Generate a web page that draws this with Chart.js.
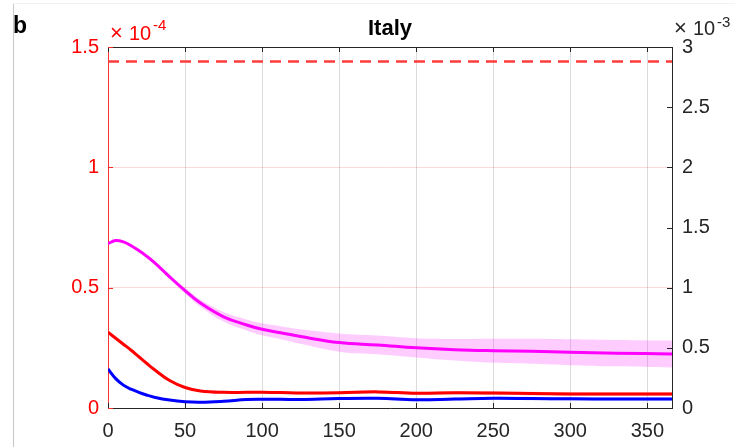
<!DOCTYPE html>
<html>
<head>
<meta charset="utf-8">
<script src="https://cdn.jsdelivr.net/npm/chart.js@4"></script>
<style>
  body { margin: 0; background: #fff; }
  #chart { display: block; }
</style>
</head>
<body>
<canvas id="chart" width="735" height="447"></canvas>
<script>
// days since start, values in units of 1e-4 (left axis)
var days = [0, 5, 10, 15, 20, 25, 30, 40, 50, 60, 75, 90, 100, 112, 125, 150, 175, 200, 225, 250, 275, 300, 330, 366];

var magentaMean = [0.683, 0.696, 0.690, 0.674, 0.654, 0.631, 0.605, 0.545, 0.488, 0.436, 0.379, 0.345, 0.327, 0.313, 0.297, 0.272, 0.262, 0.250, 0.242, 0.238, 0.236, 0.232, 0.228, 0.224];
var magentaSpread = [0.003, 0.004, 0.004, 0.005, 0.005, 0.005, 0.006, 0.009, 0.012, 0.015, 0.020, 0.023, 0.025, 0.027, 0.030, 0.038, 0.039, 0.040, 0.045, 0.050, 0.052, 0.054, 0.055, 0.056];

var redMean = [0.315, 0.290, 0.265, 0.240, 0.213, 0.186, 0.160, 0.114, 0.085, 0.071, 0.065, 0.065, 0.065, 0.064, 0.062, 0.063, 0.067, 0.061, 0.063, 0.062, 0.060, 0.058, 0.058, 0.058];
var redSpread = [0.002, 0.002, 0.002, 0.003, 0.003, 0.003, 0.003, 0.003, 0.004, 0.004, 0.005, 0.005, 0.005, 0.005, 0.006, 0.006, 0.007, 0.007, 0.007, 0.008, 0.008, 0.008, 0.008, 0.008];

var blueMean = [0.1625, 0.122, 0.095, 0.078, 0.065, 0.054, 0.045, 0.033, 0.026, 0.024, 0.028, 0.035, 0.036, 0.036, 0.035, 0.039, 0.040, 0.034, 0.037, 0.040, 0.039, 0.038, 0.037, 0.037];
var blueSpread = [0.002, 0.002, 0.002, 0.002, 0.003, 0.003, 0.003, 0.003, 0.003, 0.004, 0.004, 0.004, 0.005, 0.005, 0.005, 0.005, 0.006, 0.006, 0.006, 0.006, 0.007, 0.007, 0.007, 0.007];

var thresholdX = [0, 366];
var thresholdY = [1.44, 1.44];

var xTicks = [0, 50, 100, 150, 200, 250, 300, 350];
var leftTicks = [0, 0.5, 1, 1.5];
var rightTicks = [0, 0.5, 1, 1.5, 2, 2.5, 3];

var TEXT = '#262626';
var FONT = '"Liberation Sans", Arial, Helvetica, sans-serif';

function pts(xs, ys) {
  return xs.map(function (x, i) { return { x: x, y: ys[i] }; });
}
function band(ys, spread, sign) {
  return ys.map(function (y, i) { return y + sign * spread[i]; });
}
function plain(v) { return String(v); }

function lineSet(data, color) {
  return {
    data: pts(days, data),
    borderColor: color,
    borderWidth: 3,
    pointRadius: 0,
    fill: false,
    tension: 0.4
  };
}
function edgeSet(data, fillTo, bg) {
  return {
    data: pts(days, data),
    borderWidth: 0,
    borderColor: 'rgba(0,0,0,0)',
    backgroundColor: bg,
    pointRadius: 0,
    fill: fillTo,
    tension: 0.4
  };
}

var datasets = [
  lineSet(magentaMean, '#ff00ff'),
  lineSet(redMean, '#ff0000'),
  lineSet(blueMean, '#0000ff'),
  {
    data: pts(thresholdX, thresholdY),
    borderColor: 'rgb(255,60,60)',
    borderWidth: 2.5,
    borderDash: [11, 7],
    pointRadius: 0,
    fill: false
  },
  edgeSet(band(magentaMean, magentaSpread, -1), false, 'rgba(0,0,0,0)'),
  edgeSet(band(magentaMean, magentaSpread, 1), 4, 'rgba(255,0,255,0.2)'),
  edgeSet(band(redMean, redSpread, -1), false, 'rgba(0,0,0,0)'),
  edgeSet(band(redMean, redSpread, 1), 6, 'rgba(255,0,0,0.2)'),
  edgeSet(band(blueMean, blueSpread, -1), false, 'rgba(0,0,0,0)'),
  edgeSet(band(blueMean, blueSpread, 1), 8, 'rgba(0,0,255,0.2)')
];

var decor = {
  id: 'decor',
  afterDraw: function (chart) {
    var ctx = chart.ctx, a = chart.chartArea;
    var sx = chart.scales.x, sy = chart.scales.y, sy1 = chart.scales.y1;
    ctx.save();

    // panel divider
    ctx.strokeStyle = '#c8c8c8';
    ctx.lineWidth = 1;
    ctx.beginPath();
    ctx.moveTo(13.5, 4); ctx.lineTo(13.5, 447);
    ctx.stroke();
    ctx.strokeStyle = '#f2f2f2';
    ctx.beginPath();
    ctx.moveTo(13, 3.5); ctx.lineTo(735, 3.5);
    ctx.stroke();

    // top box edge
    ctx.strokeStyle = TEXT;
    ctx.beginPath();
    ctx.moveTo(a.left, a.top + 0.5); ctx.lineTo(a.right, a.top + 0.5);
    ctx.stroke();

    // inward ticks
    ctx.beginPath();
    xTicks.forEach(function (v) {
      var px = Math.round(sx.getPixelForValue(v)) + 0.5;
      ctx.moveTo(px, a.bottom); ctx.lineTo(px, a.bottom - 5);
      ctx.moveTo(px, a.top); ctx.lineTo(px, a.top + 5);
    });
    rightTicks.forEach(function (v) {
      var py = Math.round(sy1.getPixelForValue(v)) + 0.5;
      ctx.moveTo(a.right, py); ctx.lineTo(a.right - 5, py);
    });
    ctx.stroke();
    ctx.strokeStyle = 'rgb(255,40,40)';
    ctx.beginPath();
    leftTicks.forEach(function (v) {
      var py = Math.round(sy.getPixelForValue(v)) + 0.5;
      ctx.moveTo(a.left, py); ctx.lineTo(a.left + 5, py);
    });
    ctx.stroke();

    // texts
    ctx.textBaseline = 'alphabetic';
    ctx.fillStyle = '#000';
    ctx.font = 'bold 23px ' + FONT;
    ctx.textAlign = 'left';
    ctx.fillText('b', 13, 33);
    ctx.font = 'bold 22px ' + FONT;
    ctx.textAlign = 'center';
    ctx.fillText('Italy', (a.left + a.right) / 2, 35);

    ctx.textAlign = 'left';
    ctx.fillStyle = '#ff0000';
    ctx.font = '22px ' + FONT;
    ctx.fillText('\u00d7', 110, 40);
    ctx.font = '20px ' + FONT;
    ctx.fillText('10', 129, 40);
    ctx.font = '15px ' + FONT;
    ctx.fillText('-4', 153, 30);

    ctx.fillStyle = TEXT;
    ctx.font = '22px ' + FONT;
    ctx.fillText('\u00d7', 674, 35);
    ctx.font = '20px ' + FONT;
    ctx.fillText('10', 693, 35);
    ctx.font = '15px ' + FONT;
    ctx.fillText('-3', 717, 27);
    ctx.restore();
  }
};

var ctx = document.getElementById('chart').getContext('2d');
var chart = new Chart(ctx, {
  type: 'line',
  data: { datasets: datasets },
  plugins: [decor],
  options: {
    responsive: false,
    animation: false,
    devicePixelRatio: 1,
    layout: { padding: { top: 47, left: 0, right: 0, bottom: 0 } },
    plugins: { legend: { display: false }, tooltip: { enabled: false } },
    scales: {
      x: {
        type: 'linear',
        min: 0,
        max: 366,
        afterFit: function (s) { s.height = 39; },
        ticks: {
          stepSize: 50,
          includeBounds: false,
          color: TEXT,
          font: { family: FONT, size: 20 },
          padding: 11,
          maxRotation: 0,
          callback: plain
        },
        grid: { color: 'rgba(0,0,0,0.14)', drawTicks: false },
        border: { color: TEXT, width: 1 }
      },
      y: {
        position: 'left',
        min: 0,
        max: 1.5,
        afterFit: function (s) { s.width = 108; },
        ticks: {
          stepSize: 0.5,
          color: '#ff0000',
          font: { family: FONT, size: 20 },
          padding: 9,
          callback: plain
        },
        grid: { color: 'rgba(255,0,0,0.15)', drawTicks: false },
        border: { color: 'rgb(255,50,50)', width: 1 }
      },
      y1: {
        position: 'right',
        min: 0,
        max: 3,
        afterFit: function (s) { s.width = 63; },
        ticks: {
          stepSize: 0.5,
          color: TEXT,
          font: { family: FONT, size: 20 },
          padding: 10,
          callback: plain
        },
        grid: { drawOnChartArea: false, drawTicks: false },
        border: { color: TEXT, width: 1 }
      }
    }
  }
});
</script>
</body>
</html>
